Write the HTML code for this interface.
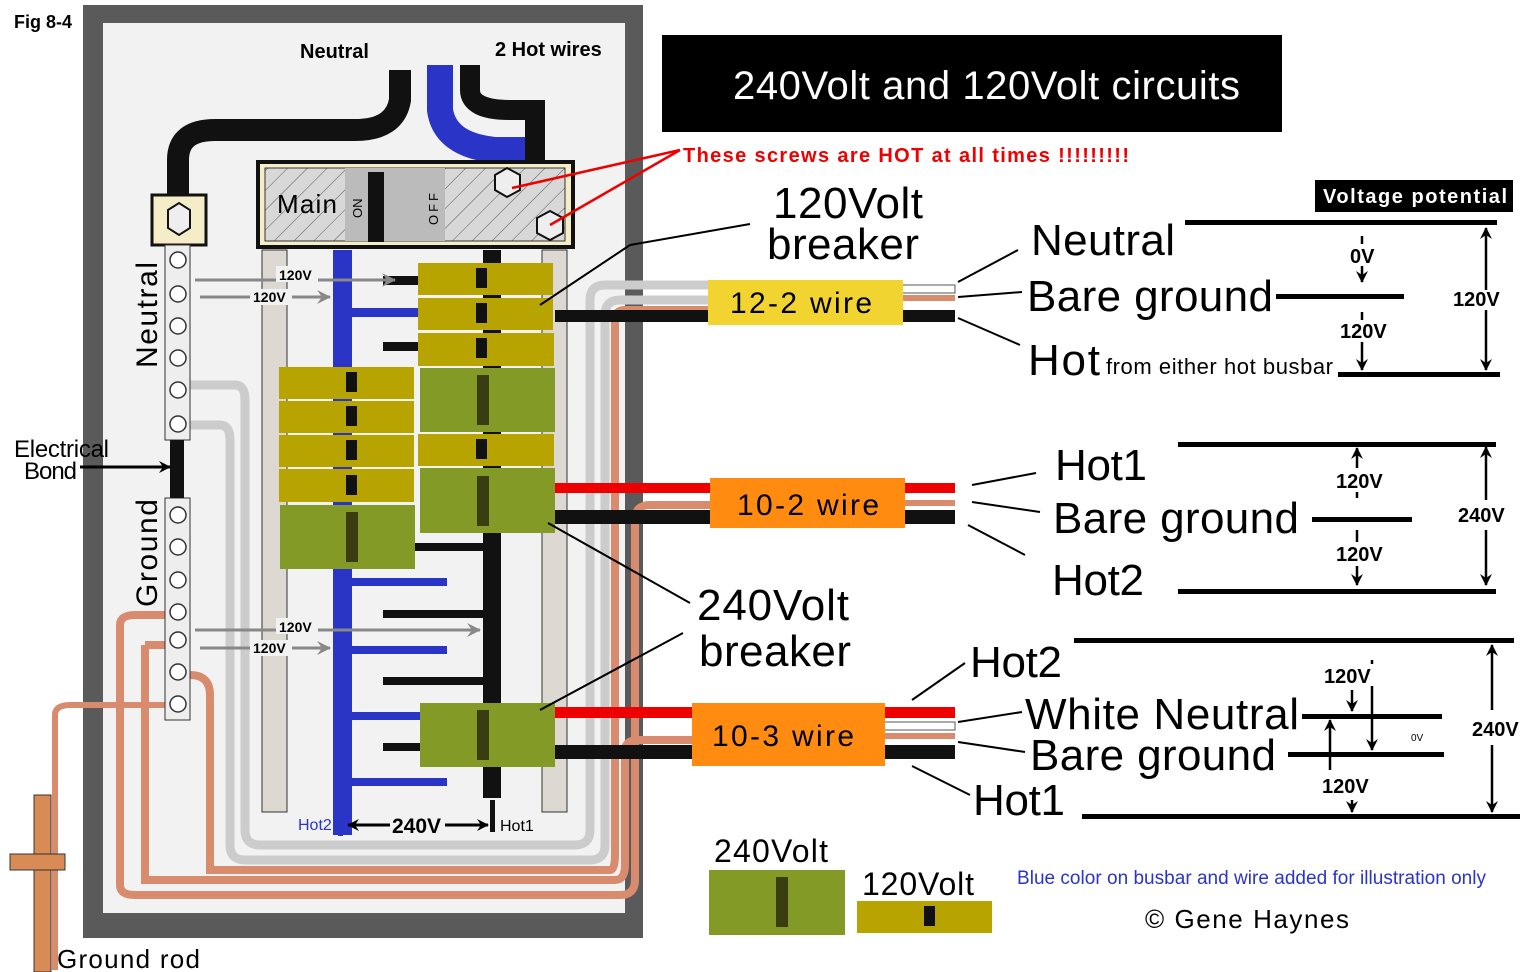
<!DOCTYPE html>
<html><head><meta charset="utf-8"><style>
html,body{margin:0;padding:0;background:#fff;}
svg{display:block;font-family:"Liberation Sans",sans-serif;}
</style></head><body>
<svg width="1533" height="972" viewBox="0 0 1533 972" xmlns="http://www.w3.org/2000/svg">
<defs>
<pattern id="h" width="14" height="14" patternUnits="userSpaceOnUse" patternTransform="rotate(45)">
<rect width="14" height="14" fill="#d8d8d8"/><line x1="0" y1="0" x2="0" y2="14" stroke="#555" stroke-width="1"/></pattern>
<marker id="ag" markerWidth="14" markerHeight="14" refX="13" refY="7" orient="auto" markerUnits="userSpaceOnUse"><path d="M0,0 L14,7 L0,14 L5,7z" fill="#888"/></marker>
<marker id="ab" markerWidth="12" markerHeight="12" refX="11" refY="6" orient="auto" markerUnits="userSpaceOnUse"><path d="M0,0 L12,6 L0,12 L4,6z" fill="#000"/></marker>
</defs>
<rect width="1533" height="972" fill="#fff"/>
<text x="14" y="28" font-size="18" font-weight="bold" textLength="58">Fig 8-4</text>
<!-- panel -->
<rect x="83" y="5" width="560" height="933" fill="#5a5a5a"/>
<rect x="103" y="23" width="522" height="890" fill="#f2f2f2"/>
<!-- top cables -->
<path d="M178,200 V160 Q178,130 215,130 H355 Q395,130 400,100 V70" fill="none" stroke="#111" stroke-width="22"/>
<path d="M440,65 V110 Q445,145 495,150 H520 V175" fill="none" stroke="#2a35c8" stroke-width="26"/>
<path d="M470,65 V90 Q470,110 510,110 H535 V180" fill="none" stroke="#111" stroke-width="20"/>
<text x="300" y="58" font-size="20" font-weight="bold">Neutral</text>
<text x="495" y="56" font-size="20" font-weight="bold">2 Hot wires</text>
<!-- rails -->
<rect x="262" y="250" width="25" height="562" fill="#ddd9d2" stroke="#333" stroke-width="1"/>
<rect x="542" y="250" width="25" height="562" fill="#ddd9d2" stroke="#333" stroke-width="1"/>
<!-- white wires -->
<g fill="none" stroke="#333" stroke-width="1">
<path d="M190,385 H235 Q245,385 245,400 V830 Q245,845 260,845 H575 Q590,845 590,830 V300 Q590,285 605,285 H710" stroke="#ccc" stroke-width="9"/>
<path d="M190,425 H220 Q230,425 230,440 V845 Q230,860 245,860 H590 Q605,860 605,845 V315 Q605,300 620,300 H710" stroke="#ccc" stroke-width="9"/>
<path d="M120,625 Q120,615 135,615 H165 M120,625 V885 Q120,895 135,895 H620 Q635,895 635,880 V520 Q635,505 650,505 H712" stroke="#d98b6e" stroke-width="8"/>
<path d="M145,645 H165 M145,645 V880 H615 Q625,880 625,865 V750 Q625,740 640,740 H693" stroke="#d98b6e" stroke-width="8"/>
<path d="M190,675 Q210,675 210,695 V870 H610 Q615,870 615,855 V320 Q615,310 625,310 H710" stroke="#d98b6e" stroke-width="8"/>
<path d="M55,970 V715 Q55,705 70,705 H165" stroke="#d98b6e" stroke-width="6"/>
</g>
<!-- main breaker -->
<rect x="258" y="162" width="315" height="85" fill="#f5edc8" stroke="#111" stroke-width="4"/>
<rect x="265" y="168" width="300" height="73" fill="url(#h)" stroke="#333"/>
<rect x="345" y="168" width="100" height="73" fill="#bbb"/>
<rect x="368" y="172" width="16" height="70" fill="#111"/>
<text x="277" y="213" font-size="26" textLength="60">Main</text>
<text x="362" y="218" font-size="13" transform="rotate(-90 362 218)">ON</text>
<text x="438" y="225" font-size="13" transform="rotate(-90 438 225)" letter-spacing="3">OFF</text>
<polygon points="495,175 507,168 520,175 520,190 507,197 495,190" fill="#eee" stroke="#111" stroke-width="2"/>
<polygon points="537,218 550,211 563,218 563,233 550,240 537,233" fill="#eee" stroke="#111" stroke-width="2"/>
<!-- neutral/ground bars -->
<rect x="152" y="195" width="54" height="50" fill="#f5edc8" stroke="#111" stroke-width="3"/>
<polygon points="168,210 179,203 190,210 190,228 179,235 168,228" fill="#eee" stroke="#111" stroke-width="2"/>
<rect x="165" y="245" width="25" height="195" fill="#eee" stroke="#333"/>
<rect x="165" y="498" width="25" height="222" fill="#eee" stroke="#333"/>
<rect x="170" y="440" width="14" height="58" fill="#111"/>
<g fill="#fff" stroke="#333" stroke-width="1.5">
<circle cx="178" cy="260" r="8"/><circle cx="178" cy="294" r="8"/><circle cx="178" cy="326" r="8"/><circle cx="178" cy="358" r="8"/><circle cx="178" cy="390" r="8"/><circle cx="178" cy="424" r="8"/>
<circle cx="178" cy="515" r="8"/><circle cx="178" cy="547" r="8"/><circle cx="178" cy="580" r="8"/><circle cx="178" cy="612" r="8"/><circle cx="178" cy="640" r="8"/><circle cx="178" cy="672" r="8"/><circle cx="178" cy="704" r="8"/>
</g>
<text x="157" y="368" font-size="30" transform="rotate(-90 157 368)" textLength="106">Neutral</text>
<text x="157" y="607" font-size="30" transform="rotate(-90 157 607)" textLength="108">Ground</text>
<text x="14" y="457" font-size="24" textLength="95">Electrical</text>
<text x="24" y="479" font-size="24" textLength="53">Bond</text>
<line x1="80" y1="467" x2="170" y2="467" stroke="#000" stroke-width="3" marker-end="url(#ab)"/>
<!-- busbars -->
<rect x="333" y="250" width="19" height="585" fill="#2a35c8"/>
<rect x="483" y="250" width="18" height="548" fill="#111"/>
<g fill="#2a35c8">
<rect x="352" y="308" width="70" height="9"/><rect x="352" y="578" width="95" height="8"/><rect x="352" y="646" width="95" height="8"/><rect x="352" y="712" width="95" height="8"/><rect x="352" y="778" width="95" height="8"/>
</g>
<g fill="#111">
<rect x="383" y="276" width="40" height="9"/><rect x="383" y="342" width="40" height="9"/><rect x="383" y="610" width="100" height="8"/><rect x="383" y="677" width="100" height="8"/><rect x="383" y="743" width="40" height="8"/><rect x="415" y="543" width="70" height="8"/>
</g>
<!-- breakers -->
<g fill="#b8a400">
<rect x="418" y="263" width="135" height="32"/><rect x="418" y="298" width="135" height="32"/><rect x="418" y="333" width="136" height="33"/><rect x="418" y="434" width="136" height="32"/>
<rect x="279" y="367" width="135" height="32"/><rect x="279" y="401" width="135" height="32"/><rect x="279" y="435" width="135" height="32"/><rect x="279" y="469" width="135" height="33"/>
</g>
<g fill="#849a26">
<rect x="420" y="368" width="135" height="64"/><rect x="420" y="468" width="135" height="65"/><rect x="280" y="505" width="135" height="64"/><rect x="420" y="703" width="135" height="64"/>
</g>
<g fill="#111">
<rect x="476" y="268" width="11" height="20"/><rect x="476" y="303" width="11" height="20"/><rect x="476" y="338" width="11" height="20"/><rect x="476" y="439" width="11" height="20"/>
<rect x="346" y="372" width="11" height="20"/><rect x="346" y="406" width="11" height="20"/><rect x="346" y="440" width="11" height="20"/><rect x="346" y="475" width="11" height="20"/>
</g>
<g fill="#3a3d10">
<rect x="477" y="375" width="12" height="50"/><rect x="477" y="476" width="12" height="50"/><rect x="346" y="512" width="12" height="50"/><rect x="477" y="710" width="12" height="50"/>
</g>
<!-- gray arrows -->
<g stroke="#888" stroke-width="3" fill="none">
<line x1="195" y1="280" x2="395" y2="280" marker-end="url(#ag)"/><line x1="200" y1="297" x2="330" y2="297" marker-end="url(#ag)"/>
<line x1="195" y1="630" x2="480" y2="630" marker-end="url(#ag)"/><line x1="200" y1="648" x2="330" y2="648" marker-end="url(#ag)"/>
</g>
<g font-size="14" font-weight="bold">
<rect x="276" y="266" width="42" height="16" fill="#f2f2f2"/><text x="279" y="280">120V</text>
<rect x="250" y="289" width="42" height="16" fill="#f2f2f2"/><text x="253" y="302">120V</text>
<rect x="276" y="618" width="42" height="16" fill="#f2f2f2"/><text x="279" y="632">120V</text>
<rect x="250" y="640" width="42" height="16" fill="#f2f2f2"/><text x="253" y="653">120V</text>
</g>
<!-- hot labels bottom -->
<rect x="338" y="806" width="5" height="30" fill="#2a35c8"/><rect x="490" y="800" width="5" height="32" fill="#111"/>
<text x="298" y="830" font-size="16" fill="#2a35c8">Hot2</text>
<text x="500" y="831" font-size="16">Hot1</text>
<text x="392" y="833" font-size="21" font-weight="bold">240V</text>
<line x1="390" y1="825" x2="348" y2="825" stroke="#000" stroke-width="3" marker-end="url(#ab)"/>
<line x1="445" y1="825" x2="488" y2="825" stroke="#000" stroke-width="3" marker-end="url(#ab)"/>
<!-- ground rod -->
<rect x="34" y="795" width="17" height="177" fill="#d98b55" stroke="#333"/>
<rect x="10" y="854" width="55" height="16" fill="#d98b55" stroke="#333"/>
<text x="57" y="968" font-size="26" textLength="143">Ground rod</text>
<!-- wires to right -->
<rect x="555" y="310" width="400" height="12" fill="#111"/>
<rect x="555" y="483" width="400" height="10" fill="#e00"/><rect x="555" y="510" width="400" height="14" fill="#111"/>
<rect x="555" y="707" width="400" height="11" fill="#e00"/><rect x="555" y="745" width="400" height="14" fill="#111"/>
<rect x="900" y="285" width="55" height="8" fill="#fff" stroke="#555"/><rect x="900" y="295" width="55" height="6" fill="#d98b6e"/>
<rect x="900" y="500" width="55" height="6" fill="#d98b6e"/>
<rect x="880" y="722" width="75" height="8" fill="#fff" stroke="#555"/><rect x="880" y="733" width="75" height="6" fill="#d98b6e"/>
<rect x="708" y="280" width="195" height="45" fill="#f2d430"/>
<text x="730" y="313" font-size="30" textLength="142">12-2 wire</text>
<rect x="710" y="478" width="195" height="50" fill="#ff8c10"/>
<text x="737" y="515" font-size="30" textLength="142">10-2 wire</text>
<rect x="692" y="703" width="193" height="63" fill="#ff8c10"/>
<text x="712" y="746" font-size="30" textLength="142">10-3 wire</text>
<!-- title -->
<rect x="662" y="35" width="620" height="97" fill="#000"/>
<text x="733" y="99" font-size="40" fill="#fff" textLength="507">240Volt and 120Volt circuits</text>
<text x="683" y="162" font-size="20" font-weight="bold" fill="#e00" textLength="446">These screws are HOT at all times !!!!!!!!!</text>
<g stroke="#e00" stroke-width="2.5"><line x1="680" y1="150" x2="512" y2="188"/><line x1="680" y1="150" x2="550" y2="225"/></g>
<!-- callouts -->
<text x="773" y="218" font-size="44" textLength="150">120Volt</text><text x="767" y="259" font-size="44" textLength="152">breaker</text>
<line x1="750" y1="224" x2="630" y2="245" stroke="#000" stroke-width="2"/><line x1="630" y1="245" x2="540" y2="305" stroke="#000" stroke-width="2"/>
<text x="697" y="620" font-size="44" textLength="152">240Volt</text><text x="699" y="666" font-size="44" textLength="152">breaker</text>
<line x1="690" y1="603" x2="548" y2="523" stroke="#000" stroke-width="2"/>
<line x1="683" y1="633" x2="540" y2="710" stroke="#000" stroke-width="2"/>
<!-- right diagrams -->
<g stroke="#000" stroke-width="2">
<line x1="958" y1="282" x2="1018" y2="250"/><line x1="958" y1="297" x2="1022" y2="292"/><line x1="958" y1="318" x2="1020" y2="345"/>
<line x1="972" y1="485" x2="1036" y2="473"/><line x1="972" y1="502" x2="1040" y2="512"/><line x1="968" y1="525" x2="1025" y2="555"/>
<line x1="912" y1="700" x2="965" y2="663"/><line x1="958" y1="722" x2="1022" y2="712"/><line x1="958" y1="742" x2="1025" y2="752"/><line x1="912" y1="766" x2="970" y2="795"/>
</g>
<rect x="1315" y="180" width="198" height="32" fill="#000"/>
<text x="1323" y="203" font-size="20" font-weight="bold" fill="#fff" textLength="184">Voltage potential</text>
<g font-size="44">
<text x="1031" y="255" textLength="144">Neutral</text><text x="1027" y="311" textLength="246">Bare ground</text><text x="1028" y="375" textLength="72">Hot</text>
<text x="1055" y="480" textLength="92">Hot1</text><text x="1053" y="533" textLength="246">Bare ground</text><text x="1052" y="595" textLength="92">Hot2</text>
<text x="970" y="677" textLength="92">Hot2</text><text x="1025" y="729" textLength="274">White Neutral</text><text x="1030" y="770" textLength="246">Bare ground</text><text x="973" y="815" textLength="92">Hot1</text>
</g>
<text x="1106" y="374" font-size="22" textLength="227">from either hot busbar</text>
<g fill="#000">
<rect x="1185" y="220" width="312" height="5"/><rect x="1276" y="294" width="128" height="5"/><rect x="1338" y="372" width="162" height="5"/>
<rect x="1178" y="442" width="318" height="5"/><rect x="1312" y="517" width="100" height="5"/><rect x="1178" y="589" width="318" height="5"/>
<rect x="1074" y="638" width="440" height="5"/><rect x="1302" y="714" width="140" height="5"/><rect x="1288" y="752" width="156" height="5"/><rect x="1082" y="814" width="438" height="5"/>
</g>
<g stroke="#000" stroke-width="2.5">
<line x1="1362" y1="236" x2="1362" y2="282" marker-end="url(#ab)"/><line x1="1362" y1="312" x2="1362" y2="370" marker-end="url(#ab)"/>
<line x1="1486" y1="290" x2="1486" y2="228" marker-end="url(#ab)"/><line x1="1486" y1="310" x2="1486" y2="370" marker-end="url(#ab)"/>
<line x1="1357" y1="498" x2="1357" y2="448" marker-end="url(#ab)"/><line x1="1357" y1="530" x2="1357" y2="585" marker-end="url(#ab)"/>
<line x1="1486" y1="500" x2="1486" y2="447" marker-end="url(#ab)"/><line x1="1486" y1="530" x2="1486" y2="585" marker-end="url(#ab)"/>
<line x1="1352" y1="690" x2="1352" y2="711" marker-end="url(#ab)"/><line x1="1372" y1="660" x2="1372" y2="750" marker-end="url(#ab)"/>
<line x1="1330" y1="770" x2="1330" y2="720" marker-end="url(#ab)"/><line x1="1352" y1="800" x2="1352" y2="812" marker-end="url(#ab)"/>
<line x1="1492" y1="710" x2="1492" y2="645" marker-end="url(#ab)"/><line x1="1492" y1="745" x2="1492" y2="812" marker-end="url(#ab)"/>
</g>
<g font-size="20" font-weight="bold">
<rect x="1348" y="244" width="36" height="22" fill="#fff"/><text x="1350" y="263">0V</text>
<rect x="1338" y="320" width="58" height="22" fill="#fff"/><text x="1340" y="338">120V</text><text x="1453" y="306">120V</text>
<rect x="1334" y="468" width="56" height="24" fill="#fff"/><text x="1336" y="488">120V</text>
<rect x="1334" y="542" width="56" height="24" fill="#fff"/><text x="1336" y="561">120V</text>
<rect x="1456" y="503" width="60" height="24" fill="#fff"/><text x="1458" y="522">240V</text>
<rect x="1322" y="664" width="58" height="22" fill="#fff"/><text x="1324" y="683">120V</text>
<rect x="1320" y="774" width="58" height="22" fill="#fff"/><text x="1322" y="793">120V</text>
<rect x="1470" y="717" width="60" height="24" fill="#fff"/><text x="1472" y="736">240V</text>
</g>
<text x="1411" y="741" font-size="10">0V</text>
<!-- legend -->
<text x="714" y="862" font-size="32" textLength="114">240Volt</text>
<rect x="709" y="870" width="136" height="65" fill="#849a26"/><rect x="776" y="877" width="12" height="50" fill="#3a3d10"/>
<text x="862" y="895" font-size="32" textLength="112">120Volt</text>
<rect x="857" y="901" width="135" height="32" fill="#b8a400"/><rect x="924" y="906" width="11" height="20" fill="#111"/>
<text x="1017" y="884" font-size="19" fill="#2a35c8" textLength="469">Blue color on busbar and wire added for illustration only</text>
<text x="1145" y="928" font-size="26" textLength="204">© Gene Haynes</text>
</svg>
</body></html>
